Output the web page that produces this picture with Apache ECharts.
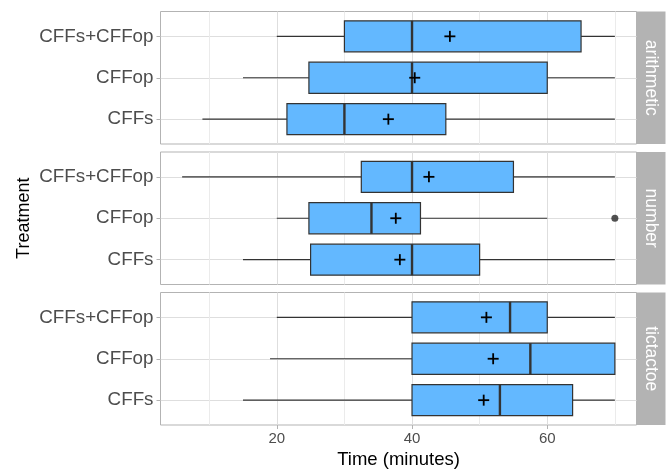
<!DOCTYPE html>
<html>
<head>
<meta charset="utf-8">
<script src="https://cdn.jsdelivr.net/npm/echarts@6/dist/echarts.min.js"></script>
<style>html,body{margin:0;padding:0;background:#fff;}#chart{width:670px;height:472px;}</style>
</head>
<body>
<div id="chart"></div>
<script>
// ---- data ----
const categories = ['CFFs', 'CFFop', 'CFFs+CFFop'];
const facets = ['arithmetic', 'number', 'tictactoe'];
const xTicks = [20, 40, 60];
// [lower whisker, Q1, median, Q3, upper whisker] for CFFs, CFFop, CFFs+CFFop
const arithmeticBox = [[9, 21.5, 30, 45, 70], [15, 24.75, 40, 60, 70], [20, 30, 40, 65, 70]];
const numberBox = [[15, 25, 40, 50, 70], [20, 24.75, 34, 41.25, 60], [6, 32.5, 40, 55, 70]];
const tictactoeBox = [[15, 40, 53, 63.75, 70], [19, 40, 57.5, 70, 70], [20, 40, 54.5, 60, 70]];
const arithmeticMean = [36.5, 40.4, 45.6];
const numberMean = [38.2, 37.6, 42.5];
const tictactoeMean = [50.6, 52.0, 51.0];
const arithmeticOutliers = [];
const numberOutliers = [[70, 'CFFop']];
const tictactoeOutliers = [];

const boxes = [arithmeticBox, numberBox, tictactoeBox];
const means = [arithmeticMean, numberMean, tictactoeMean];
const outliers = [arithmeticOutliers, numberOutliers, tictactoeOutliers];

// ---- layout ----
const FONT = '"Liberation Sans", Arial, sans-serif';
const gridLeft = 160.5, gridRight = 33.5;
const gridTops = [11.5, 152, 292.5];
const gridH = 132.5;
const stripX = 670 - gridRight, stripW = 29;

function renderBox(params, api) {
  const c = api.value(0);
  const unit = api.size([0, 1])[1];
  const h = unit * 0.75;
  const pLo = api.coord([api.value(1), c]);
  const pQ1 = api.coord([api.value(2), c]);
  const pMed = api.coord([api.value(3), c]);
  const pQ3 = api.coord([api.value(4), c]);
  const pHi = api.coord([api.value(5), c]);
  const y = pLo[1];
  const stroke = '#333333';
  return {
    type: 'group',
    children: [
      { type: 'line', shape: { x1: pLo[0], y1: y, x2: pQ1[0], y2: y }, style: { stroke, lineWidth: 1.2 } },
      { type: 'line', shape: { x1: pQ3[0], y1: y, x2: pHi[0], y2: y }, style: { stroke, lineWidth: 1.2 } },
      { type: 'rect', shape: { x: pQ1[0], y: y - h / 2, width: pQ3[0] - pQ1[0], height: h }, style: { fill: '#63b8ff', stroke, lineWidth: 1.2 } },
      { type: 'line', shape: { x1: pMed[0], y1: y - h / 2, x2: pMed[0], y2: y + h / 2 }, style: { stroke, lineWidth: 2.4 } }
    ]
  };
}

function renderPlus(params, api) {
  const p = api.coord([api.value(0), api.value(1)]);
  const s = 5.5;
  return {
    type: 'group',
    children: [
      { type: 'line', shape: { x1: p[0] - s, y1: p[1], x2: p[0] + s, y2: p[1] }, style: { stroke: '#000', lineWidth: 1.8 } },
      { type: 'line', shape: { x1: p[0], y1: p[1] - s, x2: p[0], y2: p[1] + s }, style: { stroke: '#000', lineWidth: 1.8 } }
    ]
  };
}

const grids = [], xAxes = [], yAxes = [], series = [], graphics = [];
facets.forEach((f, i) => {
  const last = i === facets.length - 1;
  grids.push({ left: gridLeft, right: gridRight, top: gridTops[i], height: gridH, show: true, borderColor: '#b3b3b3', borderWidth: 1, backgroundColor: '#fff' });
  xAxes.push({
    type: 'value', gridIndex: i, min: 2.8, max: 73.2, splitNumber: 3,
    axisLine: { show: false },
    axisTick: { show: last, length: 4, lineStyle: { color: '#b3b3b3' }, customValues: xTicks },
    axisLabel: { show: last, customValues: xTicks, fontSize: 15, color: '#4d4d4d', fontFamily: FONT, margin: 6 },
    splitLine: { show: true, lineStyle: { color: '#dedede', width: 1 } },
    minorTick: { show: false, splitNumber: 2 },
    minorSplitLine: { show: true, lineStyle: { color: '#ebebeb', width: 1 } },
    name: last ? 'Time (minutes)' : '', nameLocation: 'middle', nameGap: 25, nameMoveOverlap: false,
    nameTextStyle: { fontSize: 18.5, color: '#000', fontFamily: FONT }
  });
  yAxes.push({
    type: 'value', gridIndex: i, min: 0.4, max: 3.6, splitNumber: 3,
    axisLine: { show: false },
    axisTick: { show: true, length: 4, lineStyle: { color: '#b3b3b3' }, customValues: [1, 2, 3] },
    axisLabel: { customValues: [1, 2, 3], formatter: v => categories[Math.round(v) - 1], fontSize: 18.8, color: '#4d4d4d', fontFamily: FONT, margin: 7 },
    splitLine: { show: true, lineStyle: { color: '#dedede', width: 1 } },
    name: i === 1 ? 'Treatment' : '', nameLocation: 'middle', nameGap: 127, nameMoveOverlap: false,
    nameTextStyle: { fontSize: 18, color: '#000', fontFamily: FONT }
  });
  series.push({
    type: 'custom', xAxisIndex: i, yAxisIndex: i, renderItem: renderBox,
    encode: { x: [1, 2, 3, 4, 5], y: 0 },
    data: boxes[i].map((b, k) => [k + 1].concat(b)), z: 3
  });
  series.push({
    type: 'custom', xAxisIndex: i, yAxisIndex: i, renderItem: renderPlus,
    encode: { x: 0, y: 1 },
    data: means[i].map((m, k) => [m, k + 1]), z: 4
  });
  series.push({
    type: 'scatter', xAxisIndex: i, yAxisIndex: i, symbol: 'circle', symbolSize: 7,
    itemStyle: { color: '#262626' },
    data: outliers[i].map(o => [o[0], categories.indexOf(o[1]) + 1]), z: 4
  });
  graphics.push({
    type: 'rect', left: stripX, top: gridTops[i], shape: { width: stripW, height: gridH },
    style: { fill: '#b3b3b3' }
  });
  graphics.push({
    type: 'text', x: stripX + stripW / 2, y: gridTops[i] + gridH / 2, rotation: -Math.PI / 2,
    style: { text: f, fill: '#ffffff', font: '17.5px ' + FONT, align: 'center', verticalAlign: 'middle' }
  });
});

const chart = echarts.init(document.getElementById('chart'), null, { renderer: 'canvas' });
chart.setOption({
  animation: false,
  backgroundColor: '#fff',
  grid: grids, xAxis: xAxes, yAxis: yAxes, series, graphic: graphics
});
</script>
</body>
</html>
